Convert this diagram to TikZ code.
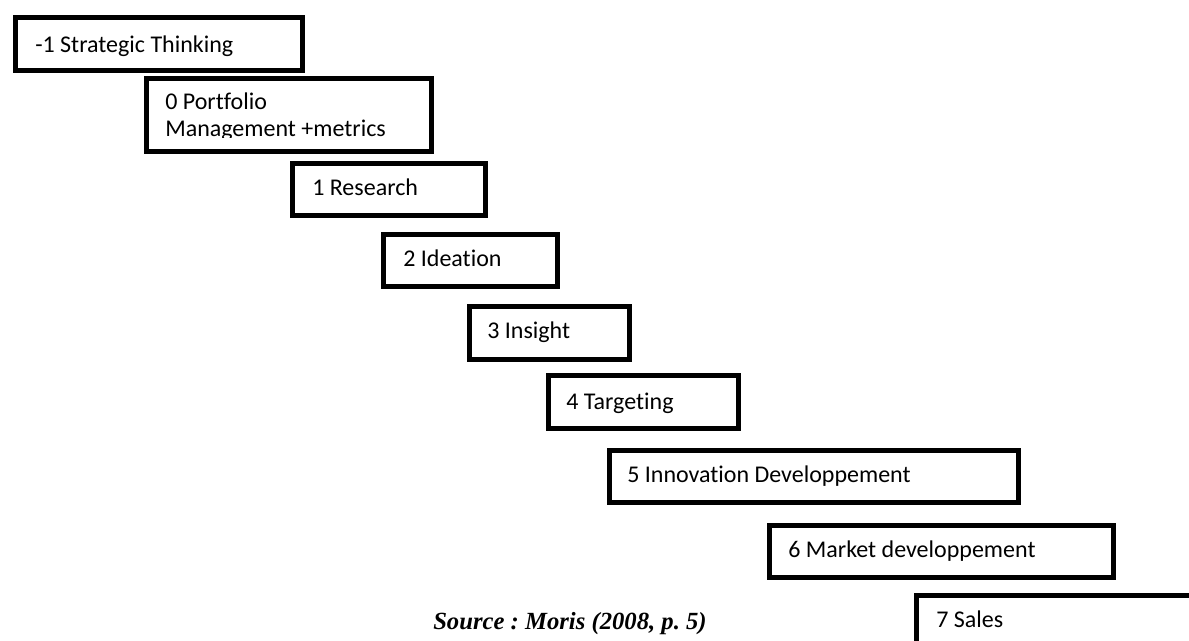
\documentclass[tikz,border=0pt]{standalone}
\usepackage{fontspec}
\setmainfont{Carlito}[Ligatures={NoCommon}]
\newfontfamily\srcfont{Liberation Serif}
\frenchspacing
\begin{document}
\begin{tikzpicture}[x=0.75pt,y=-0.75pt,
  stepbox/.style={draw=black,line width=3.4pt,fill=white,rectangle,inner sep=0pt,anchor=north west},
  lbl/.style={anchor=base west,inner sep=0pt,font=\fontsize{18pt}{22pt}\selectfont},
  src/.style={anchor=base west,inner sep=0pt,font=\srcfont\bfseries\itshape\fontsize{18.5pt}{22pt}\selectfont}]
\useasboundingbox (0,0) rectangle (1189,641);
\clip (0,0) rectangle (1189,641);
\node[stepbox,minimum width=215.25pt,minimum height=39.75pt] (b1) at (13,15) {};
\node[lbl] (t1) at (35,53) {-1 Strategic Thinking};
\node[stepbox,minimum width=213.75pt,minimum height=54.75pt] (b2) at (144,76) {};
\begin{scope}
\clip (150,80) rectangle (425,138);
\node[lbl] (t2a) at (165,110) {0 Portfolio};
\node[lbl] (t2b) at (165,137) {Management +metrics};
\end{scope}
\node[stepbox,minimum width=144.75pt,minimum height=39pt] (b3) at (290,161) {};
\node[lbl] (t3) at (312,196) {1 Research};
\node[stepbox,minimum width=130.5pt,minimum height=39pt] (b4) at (381,232) {};
\node[lbl] (t4) at (403,267) {2 Ideation};
\node[stepbox,minimum width=120pt,minimum height=39.75pt] (b5) at (467,304) {};
\node[lbl] (t5) at (487,339) {3 Insight};
\node[stepbox,minimum width=142.5pt,minimum height=39.75pt] (b6) at (546,373) {};
\node[lbl] (t6) at (566,410) {4 Targeting};
\node[stepbox,minimum width=306.75pt,minimum height=39pt] (b7) at (607,448) {};
\node[lbl] (t7) at (627,483) {5 Innovation Developpement};
\node[stepbox,minimum width=258pt,minimum height=39pt] (b8) at (767,523) {};
\node[lbl] (t8) at (788,557) {6 Market developpement};
\node[stepbox,minimum width=300pt,minimum height=100pt] (b9) at (914,593) {};
\node[lbl] (t9) at (936,627) {7 Sales};
\node[src] (s) at (433,629) {Source : Moris (2008, p. 5)};
\end{tikzpicture}
\end{document}
